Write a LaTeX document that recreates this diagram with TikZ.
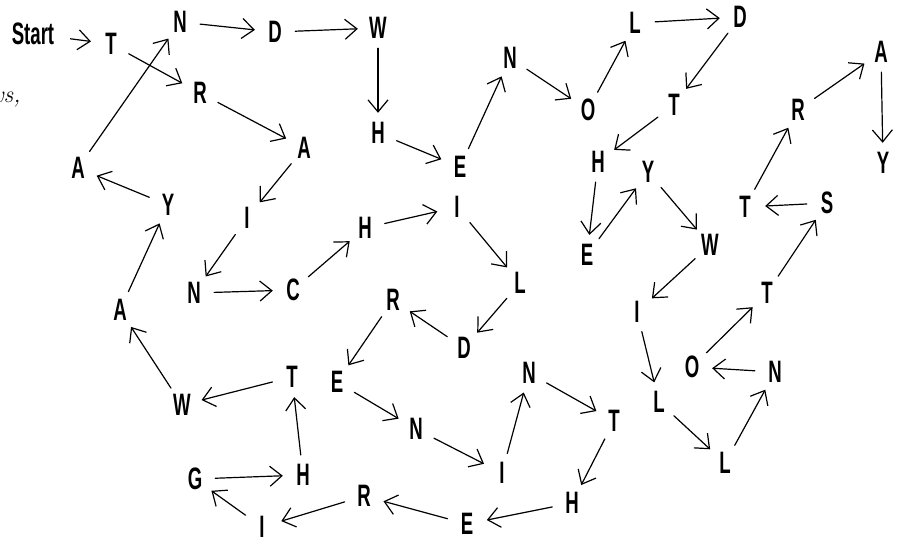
\documentclass[tikz,border=0pt]{standalone}
\usepackage{fontspec}
\newfontfamily\handfont[FakeStretch=0.6]{Liberation Sans}
\usetikzlibrary{arrows.meta}
\begin{document}
\begin{tikzpicture}[x=1pt,y=-1pt,
  ltr/.style={circle,inner sep=0pt,minimum size=40pt,font=\handfont\bfseries\fontsize{31}{31}\selectfont},
  conn/.style={-{Straight Barb[length=12pt,width=20pt]},line width=1.2pt,line cap=round}]
\useasboundingbox (0,0) rectangle (904,544);
\node[anchor=base east,font=\itshape\fontsize{24}{28}\selectfont] (frag) at (24,102) {rows,};
\node[ltr,rectangle,inner xsep=16pt] (start) at (33,34) {Start};
\node[ltr] (t1) at (111,44) {T};
\node[ltr] (n1) at (180,22) {N};
\node[ltr] (d1) at (275,32) {D};
\node[ltr] (w1) at (378,28) {W};
\node[ltr] (r1) at (200,93) {R};
\node[ltr] (a1) at (78,168) {A};
\node[ltr] (a2) at (304,148) {A};
\node[ltr] (h1) at (378,133) {H};
\node[ltr] (e1) at (460,167) {E};
\node[ltr] (n2) at (510,58) {N};
\node[ltr] (o1) at (588,110) {O};
\node[ltr] (l1) at (635,23) {L};
\node[ltr] (d2) at (740,17) {D};
\node[ltr] (t2) at (674,105) {T};
\node[ltr] (h2) at (598,162) {H};
\node[ltr] (y1) at (648,172) {Y};
\node[ltr] (e2) at (587,255) {E};
\node[ltr] (w2) at (710,245) {W};
\node[ltr] (i1) at (637,312) {I};
\node[ltr] (l2) at (659,402) {L};
\node[ltr] (l3) at (725,463) {L};
\node[ltr] (n3) at (775,372) {N};
\node[ltr] (o2) at (692,367) {O};
\node[ltr] (t3) at (767,293) {T};
\node[ltr] (s1) at (827,203) {S};
\node[ltr] (t4) at (745,207) {T};
\node[ltr] (r2) at (798,110) {R};
\node[ltr] (a3) at (881,52) {A};
\node[ltr] (y2) at (883,163) {Y};
\node[ltr] (y3) at (168,205) {Y};
\node[ltr] (a4) at (120,310) {A};
\node[ltr] (w3) at (182,405) {W};
\node[ltr] (t5) at (292,377) {T};
\node[ltr] (i2) at (247,218) {I};
\node[ltr] (n4) at (194,293) {N};
\node[ltr] (c1) at (293,290) {C};
\node[ltr] (h3) at (365,228) {H};
\node[ltr] (i3) at (457,207) {I};
\node[ltr] (l4) at (520,283) {L};
\node[ltr] (d3) at (464,348) {D};
\node[ltr] (r3) at (393,300) {R};
\node[ltr] (e3) at (337,382) {E};
\node[ltr] (n5) at (416,429) {N};
\node[ltr] (i4) at (502,473) {I};
\node[ltr] (n6) at (529,373) {N};
\node[ltr] (t6) at (614,421) {T};
\node[ltr] (h4) at (572,503) {H};
\node[ltr] (e4) at (467,524) {E};
\node[ltr] (r4) at (364,496) {R};
\node[ltr] (i5) at (262,527) {I};
\node[ltr] (g1) at (195,479) {G};
\node[ltr] (h5) at (303,475) {H};
\foreach \a/\b in {start/t1,t1/r1,r1/a2,a2/i2,i2/n4,n4/c1,c1/h3,h3/i3,i3/l4,l4/d3,d3/r3,r3/e3,e3/n5,n5/i4,i4/n6,n6/t6,t6/h4,h4/e4,e4/r4,r4/i5,i5/g1,g1/h5,h5/t5,t5/w3,w3/a4,a4/y3,y3/a1,a1/n1,n1/d1,d1/w1,w1/h1,h1/e1,e1/n2,n2/o1,o1/l1,l1/d2,d2/t2,t2/h2,h2/e2,e2/y1,y1/w2,w2/i1,i1/l2,l2/l3,l3/n3,n3/o2,o2/t3,t3/s1,s1/t4,t4/r2,r2/a3,a3/y2}
  \draw[conn] (\a) -- (\b);
\end{tikzpicture}
\end{document}
